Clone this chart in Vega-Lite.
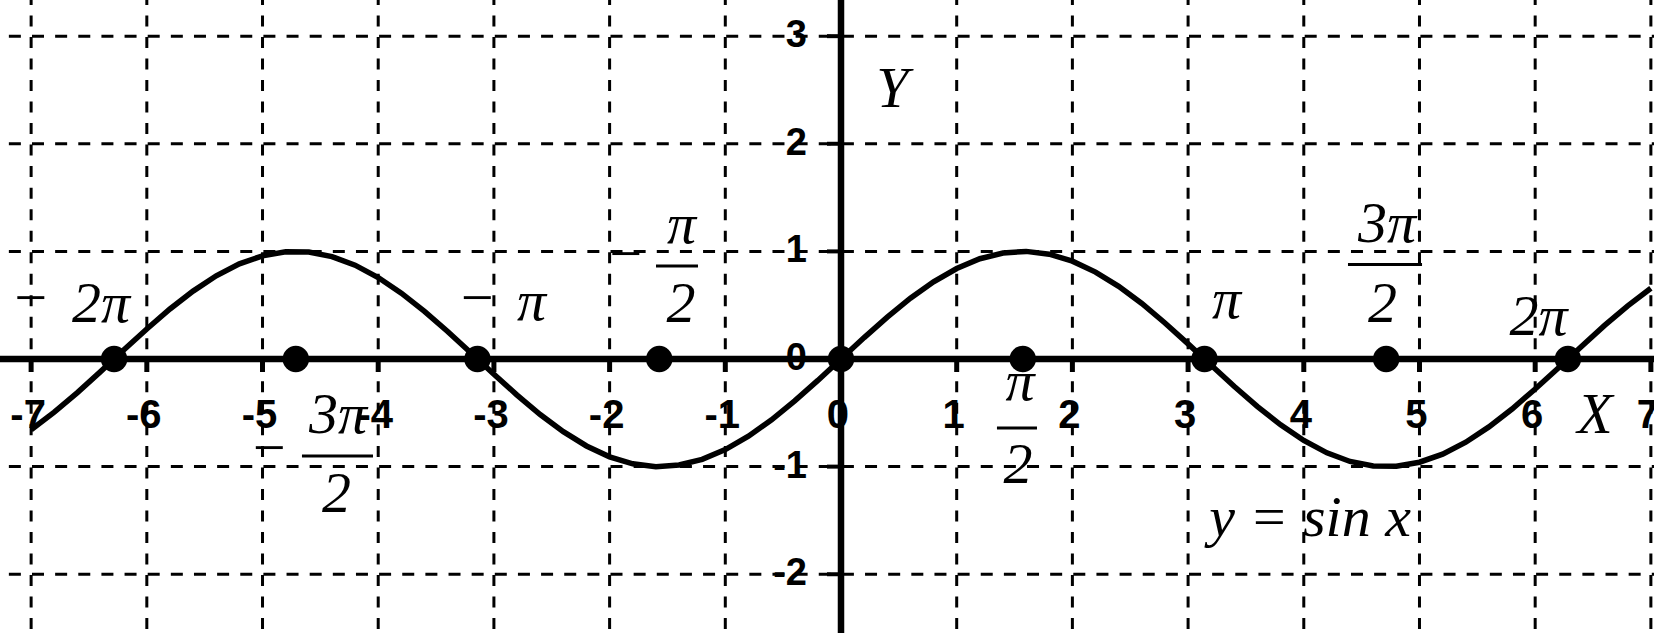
{
  "$schema": "https://vega.github.io/schema/vega-lite/v6.json",
  "width": 1654,
  "height": 633,
  "padding": 0,
  "autosize": {"type": "none"},
  "background": "white",
  "config": {"view": {"stroke": null}},
  "datasets": {
    "curve": [
      {"x": -7.0, "y": -0.657}, {"x": -6.8, "y": -0.494}, {"x": -6.6, "y": -0.312}, {"x": -6.4, "y": -0.117},
      {"x": -6.2, "y": 0.083}, {"x": -6.0, "y": 0.279}, {"x": -5.8, "y": 0.465}, {"x": -5.6, "y": 0.631},
      {"x": -5.4, "y": 0.773}, {"x": -5.2, "y": 0.884}, {"x": -5.0, "y": 0.959}, {"x": -4.8, "y": 0.996},
      {"x": -4.6, "y": 0.994}, {"x": -4.4, "y": 0.952}, {"x": -4.2, "y": 0.872}, {"x": -4.0, "y": 0.757},
      {"x": -3.8, "y": 0.612}, {"x": -3.6, "y": 0.443}, {"x": -3.4, "y": 0.256}, {"x": -3.2, "y": 0.058},
      {"x": -3.0, "y": -0.141}, {"x": -2.8, "y": -0.335}, {"x": -2.6, "y": -0.516}, {"x": -2.4, "y": -0.675},
      {"x": -2.2, "y": -0.808}, {"x": -2.0, "y": -0.909}, {"x": -1.8, "y": -0.974}, {"x": -1.6, "y": -1.0},
      {"x": -1.4, "y": -0.985}, {"x": -1.2, "y": -0.932}, {"x": -1.0, "y": -0.841}, {"x": -0.8, "y": -0.717},
      {"x": -0.6, "y": -0.565}, {"x": -0.4, "y": -0.389}, {"x": -0.2, "y": -0.199}, {"x": 0.0, "y": 0.0},
      {"x": 0.2, "y": 0.199}, {"x": 0.4, "y": 0.389}, {"x": 0.6, "y": 0.565}, {"x": 0.8, "y": 0.717},
      {"x": 1.0, "y": 0.841}, {"x": 1.2, "y": 0.932}, {"x": 1.4, "y": 0.985}, {"x": 1.6, "y": 1.0},
      {"x": 1.8, "y": 0.974}, {"x": 2.0, "y": 0.909}, {"x": 2.2, "y": 0.808}, {"x": 2.4, "y": 0.675},
      {"x": 2.6, "y": 0.516}, {"x": 2.8, "y": 0.335}, {"x": 3.0, "y": 0.141}, {"x": 3.2, "y": -0.058},
      {"x": 3.4, "y": -0.256}, {"x": 3.6, "y": -0.443}, {"x": 3.8, "y": -0.612}, {"x": 4.0, "y": -0.757},
      {"x": 4.2, "y": -0.872}, {"x": 4.4, "y": -0.952}, {"x": 4.6, "y": -0.994}, {"x": 4.8, "y": -0.996},
      {"x": 5.0, "y": -0.959}, {"x": 5.2, "y": -0.884}, {"x": 5.4, "y": -0.773}, {"x": 5.6, "y": -0.631},
      {"x": 5.8, "y": -0.465}, {"x": 6.0, "y": -0.279}, {"x": 6.2, "y": -0.083}, {"x": 6.4, "y": 0.117},
      {"x": 6.6, "y": 0.312}, {"x": 6.8, "y": 0.494}, {"x": 7.0, "y": 0.657}
    ],
    "dots": [
      {"x": -6.283}, {"x": -4.712}, {"x": -3.142}, {"x": -1.571}, {"x": 0},
      {"x": 1.571}, {"x": 3.142}, {"x": 4.712}, {"x": 6.283}
    ],
    "xlabels": [
      {"x": -7, "t": "-7"}, {"x": -6, "t": "-6"}, {"x": -5, "t": "-5"}, {"x": -4, "t": "-4"},
      {"x": -3, "t": "-3"}, {"x": -2, "t": "-2"}, {"x": -1, "t": "-1"}, {"x": 0, "t": "0"},
      {"x": 1, "t": "1"}, {"x": 2, "t": "2"}, {"x": 3, "t": "3"}, {"x": 4, "t": "4"},
      {"x": 5, "t": "5"}, {"x": 6, "t": "6"}, {"x": 7, "t": "7"}
    ],
    "xgrid": [
      {"x": -7}, {"x": -6}, {"x": -5}, {"x": -4}, {"x": -3}, {"x": -2}, {"x": -1}, {"x": 0},
      {"x": 1}, {"x": 2}, {"x": 3}, {"x": 4}, {"x": 5}, {"x": 6}, {"x": 7}
    ],
    "ygrid": [{"y": 3}, {"y": 2}, {"y": 1}, {"y": 0}, {"y": -1}, {"y": -2}],
    "xticks": [
      {"x": -7}, {"x": -6}, {"x": -5}, {"x": -4}, {"x": -3}, {"x": -2}, {"x": -1},
      {"x": 1}, {"x": 2}, {"x": 3}, {"x": 4}, {"x": 5}, {"x": 6}, {"x": 7}
    ],
    "ylabels": [
      {"y": 3, "t": "3"}, {"y": 2, "t": "2"}, {"y": 1, "t": "1"}, {"y": 0, "t": "0"},
      {"y": -1, "t": "-1"}, {"y": -2, "t": "-2"}
    ],
    "yticks": [{"y": 3}, {"y": 2}, {"y": 1}, {"y": -1}, {"y": -2}],
    "annotations": [
      {"x": -7.010, "y": 0.395, "t": "−"},
      {"x": -6.396, "y": 0.344, "t": "2π"},
      {"x": -3.150, "y": 0.386, "t": "−"},
      {"x": -2.675, "y": 0.362, "t": "π"},
      {"x": 3.332, "y": 0.381, "t": "π"},
      {"x": 6.029, "y": 0.223, "t": "2π"},
      {"x": -1.867, "y": 0.799, "t": "−"},
      {"x": -1.379, "y": 1.078, "t": "π"},
      {"x": -1.383, "y": 0.344, "t": "2"},
      {"x": 4.719, "y": 1.087, "t": "3π"},
      {"x": 4.680, "y": 0.344, "t": "2"},
      {"x": -4.948, "y": -1.008, "t": "−"},
      {"x": -4.347, "y": -0.688, "t": "3π"},
      {"x": -4.360, "y": -1.422, "t": "2"},
      {"x": 1.547, "y": -0.381, "t": "π"},
      {"x": 1.530, "y": -1.152, "t": "2"},
      {"x": 0.445, "y": 2.342, "t": "Y"},
      {"x": 6.517, "y": -0.688, "t": "X"},
      {"x": 4.054, "y": -1.645, "t": "y = sin x"}
    ],
    "bars": [
      {"x1": -1.599, "x2": -1.236, "y": 0.864},
      {"x1": 4.382, "x2": 5.022, "y": 0.878},
      {"x1": -4.659, "x2": -4.045, "y": -0.901},
      {"x1": 1.348, "x2": 1.694, "y": -0.641}
    ],
    "xaxis": [{"y": 0}],
    "yaxis": [{"x": 0}]
  },
  "layer": [
    {
      "data": {"name": "xgrid"},
      "mark": {"type": "rule", "color": "black", "strokeWidth": 3, "strokeDash": [11, 10.52], "strokeDashOffset": 6.04},
      "encoding": {
        "x": {"field": "x", "type": "quantitative", "scale": {"domain": [-7.269, 7.027], "nice": false, "zero": false}, "axis": null},
        "y": {"datum": 3.336, "type": "quantitative", "scale": {"domain": [-2.546, 3.336], "nice": false, "zero": false}, "axis": null},
        "y2": {"datum": -2.546}
      }
    },
    {
      "data": {"name": "ygrid"},
      "mark": {"type": "rule", "color": "black", "strokeWidth": 3, "strokeDash": [12, 11.14], "strokeDashOffset": 14.28},
      "encoding": {
        "x": {"datum": -7.269, "type": "quantitative", "scale": {"domain": [-7.269, 7.027], "nice": false, "zero": false}, "axis": null},
        "x2": {"datum": 7.027},
        "y": {"field": "y", "type": "quantitative", "scale": {"domain": [-2.546, 3.336], "nice": false, "zero": false}, "axis": null}
      }
    },
    {
      "data": {"name": "bars"},
      "mark": {"type": "rule", "color": "black", "strokeWidth": 3},
      "encoding": {
        "x": {"field": "x1", "type": "quantitative", "scale": {"domain": [-7.269, 7.027], "nice": false, "zero": false}, "axis": null},
        "x2": {"field": "x2"},
        "y": {"field": "y", "type": "quantitative", "scale": {"domain": [-2.546, 3.336], "nice": false, "zero": false}, "axis": null}
      }
    },
    {
      "data": {"name": "annotations"},
      "mark": {"type": "text", "font": "Liberation Serif", "fontStyle": "italic", "fontSize": 58, "align": "center", "baseline": "alphabetic", "color": "black"},
      "encoding": {
        "x": {"field": "x", "type": "quantitative", "scale": {"domain": [-7.269, 7.027], "nice": false, "zero": false}, "axis": null},
        "y": {"field": "y", "type": "quantitative", "scale": {"domain": [-2.546, 3.336], "nice": false, "zero": false}, "axis": null},
        "text": {"field": "t"}
      }
    },
    {
      "data": {"name": "xaxis"},
      "mark": {"type": "rule", "color": "black", "strokeWidth": 6.5},
      "encoding": {
        "y": {"field": "y", "type": "quantitative", "scale": {"domain": [-2.546, 3.336], "nice": false, "zero": false}, "axis": null}
      }
    },
    {
      "data": {"name": "yaxis"},
      "mark": {"type": "rule", "color": "black", "strokeWidth": 6.5},
      "encoding": {
        "x": {"field": "x", "type": "quantitative", "scale": {"domain": [-7.269, 7.027], "nice": false, "zero": false}, "axis": null}
      }
    },
    {
      "data": {"name": "xticks"},
      "mark": {"type": "tick", "orient": "vertical", "size": 13, "thickness": 5, "yOffset": 6.5, "color": "black", "opacity": 1},
      "encoding": {
        "x": {"field": "x", "type": "quantitative", "scale": {"domain": [-7.269, 7.027], "nice": false, "zero": false}, "axis": null},
        "y": {"datum": 0, "type": "quantitative", "scale": {"domain": [-2.546, 3.336], "nice": false, "zero": false}, "axis": null}
      }
    },
    {
      "data": {"name": "yticks"},
      "mark": {"type": "tick", "orient": "horizontal", "size": 14, "thickness": 4, "xOffset": -7, "color": "black", "opacity": 1},
      "encoding": {
        "x": {"datum": 0, "type": "quantitative", "scale": {"domain": [-7.269, 7.027], "nice": false, "zero": false}, "axis": null},
        "y": {"field": "y", "type": "quantitative", "scale": {"domain": [-2.546, 3.336], "nice": false, "zero": false}, "axis": null}
      }
    },
    {
      "data": {"name": "curve"},
      "mark": {"type": "line", "color": "black", "strokeWidth": 5.5, "interpolate": "linear"},
      "encoding": {
        "x": {"field": "x", "type": "quantitative", "scale": {"domain": [-7.269, 7.027], "nice": false, "zero": false}, "axis": null},
        "y": {"field": "y", "type": "quantitative", "scale": {"domain": [-2.546, 3.336], "nice": false, "zero": false}, "axis": null}
      }
    },
    {
      "data": {"name": "dots"},
      "mark": {"type": "point", "shape": "circle", "filled": true, "size": 700, "color": "black", "opacity": 1},
      "encoding": {
        "x": {"field": "x", "type": "quantitative", "scale": {"domain": [-7.269, 7.027], "nice": false, "zero": false}, "axis": null},
        "y": {"datum": 0, "type": "quantitative", "scale": {"domain": [-2.546, 3.336], "nice": false, "zero": false}, "axis": null}
      }
    },
    {
      "data": {"name": "xlabels"},
      "mark": {"type": "text", "font": "Liberation Sans Narrow, Liberation Sans", "fontWeight": "bold", "fontSize": 40, "align": "center", "baseline": "alphabetic", "dy": 69, "dx": -3, "color": "black"},
      "encoding": {
        "x": {"field": "x", "type": "quantitative", "scale": {"domain": [-7.269, 7.027], "nice": false, "zero": false}, "axis": null},
        "y": {"datum": 0, "type": "quantitative", "scale": {"domain": [-2.546, 3.336], "nice": false, "zero": false}, "axis": null},
        "text": {"field": "t"}
      }
    },
    {
      "data": {"name": "ylabels"},
      "mark": {"type": "text", "font": "Liberation Sans Narrow, Liberation Sans", "fontWeight": "bold", "fontSize": 38, "align": "right", "baseline": "middle", "dx": -34, "color": "black"},
      "encoding": {
        "x": {"datum": 0, "type": "quantitative", "scale": {"domain": [-7.269, 7.027], "nice": false, "zero": false}, "axis": null},
        "y": {"field": "y", "type": "quantitative", "scale": {"domain": [-2.546, 3.336], "nice": false, "zero": false}, "axis": null},
        "text": {"field": "t"}
      }
    }
  ]
}
